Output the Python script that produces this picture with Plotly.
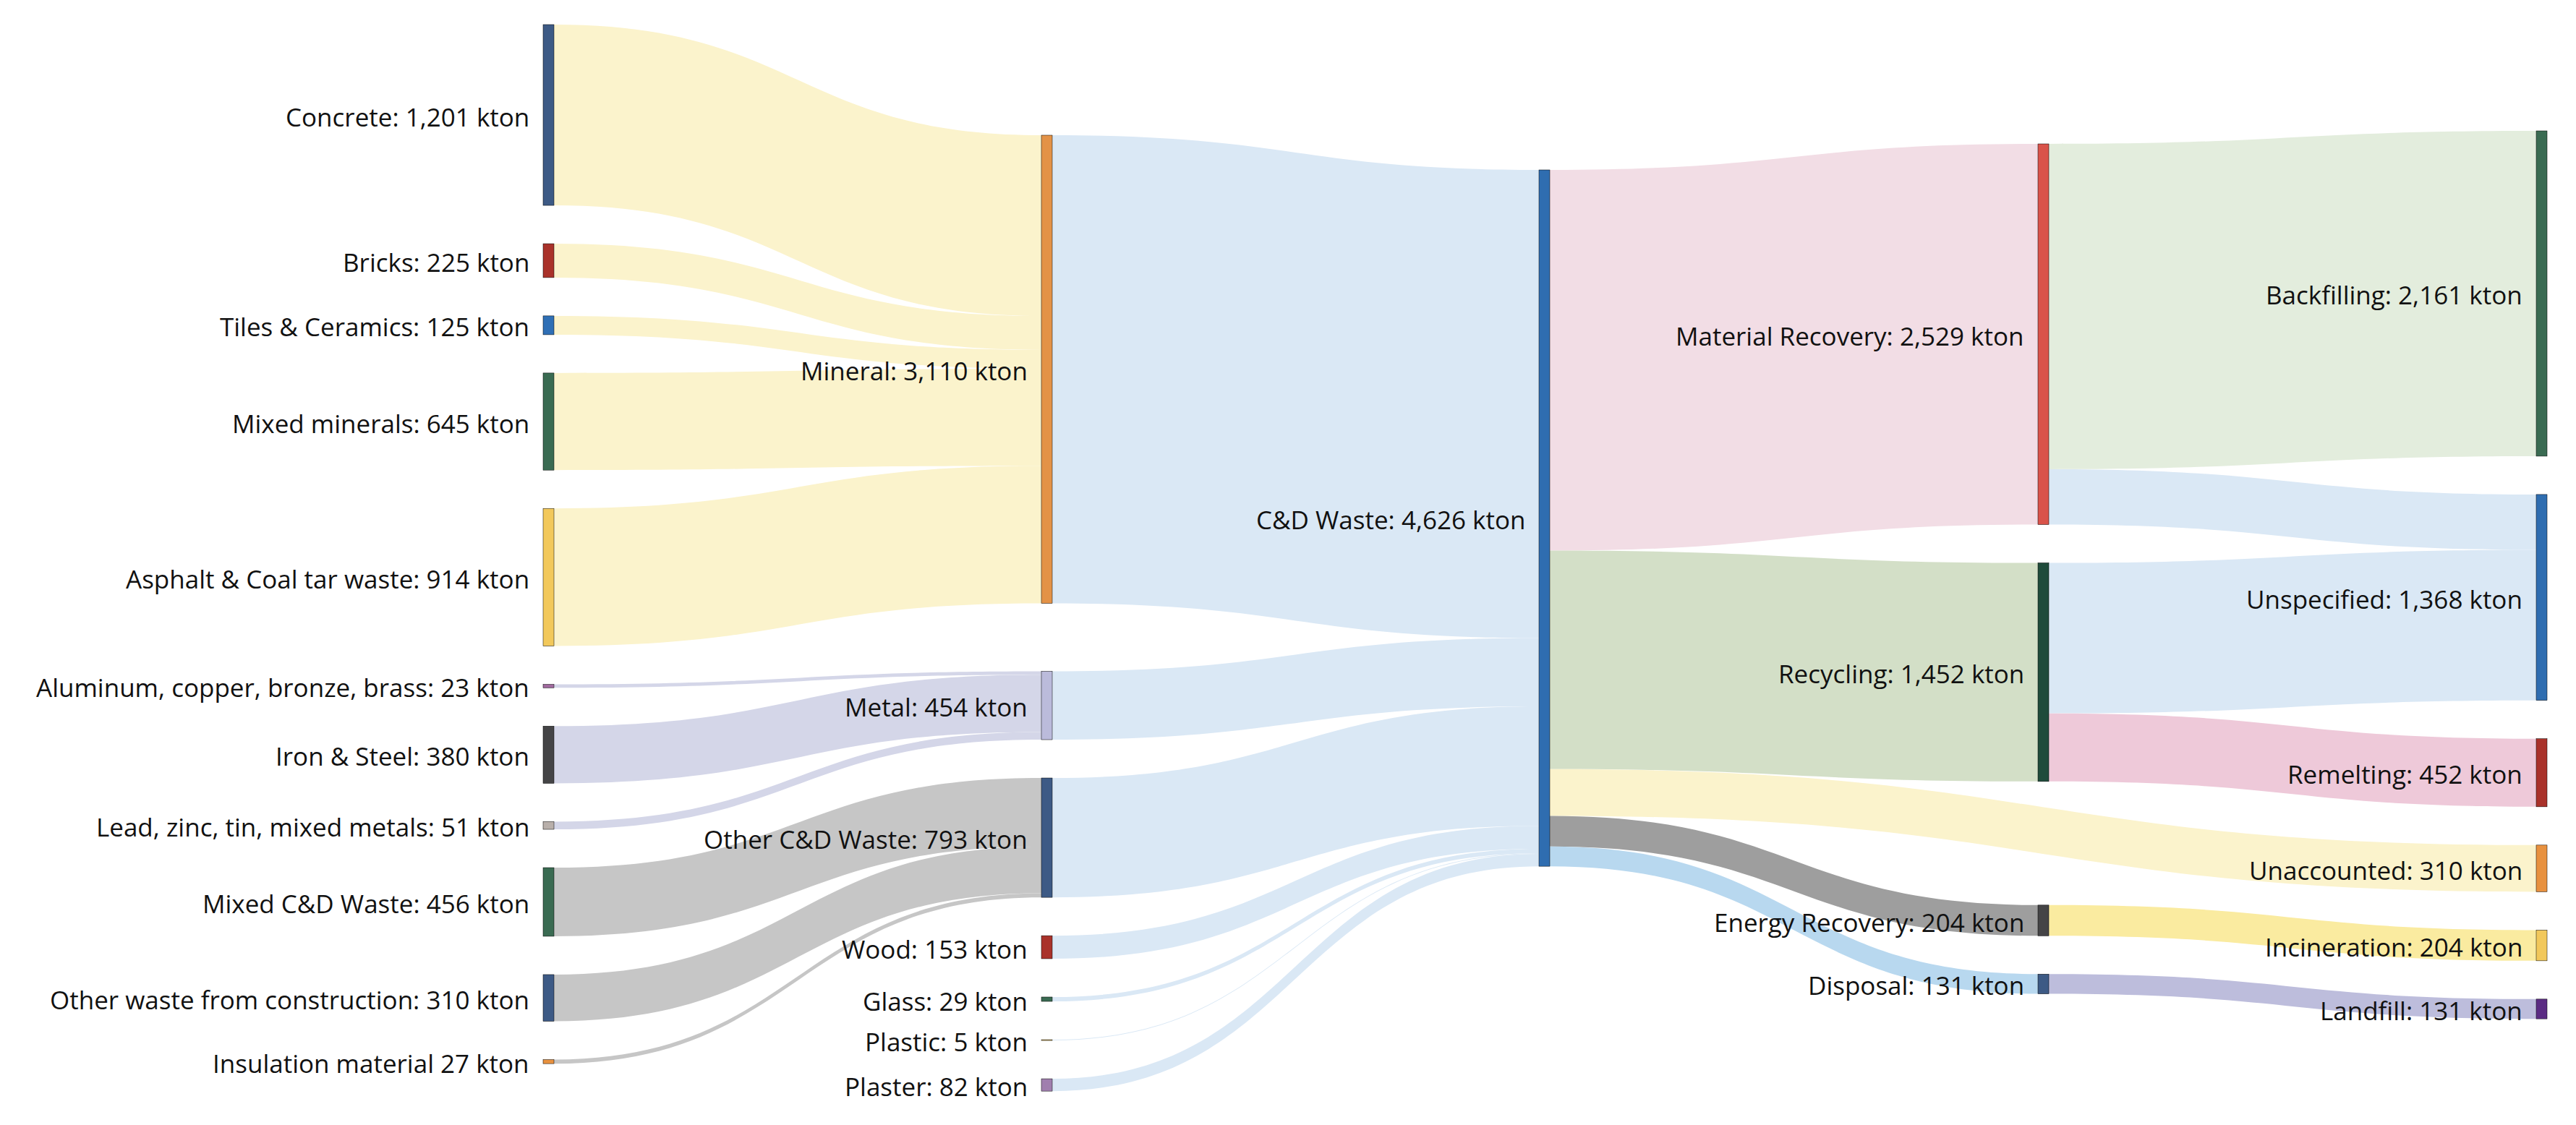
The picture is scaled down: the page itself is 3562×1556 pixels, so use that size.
import plotly.graph_objects as go

# ---------------- data ----------------
node_names = [
    "Concrete", "Bricks", "Tiles & Ceramics", "Mixed minerals", "Asphalt & Coal tar waste",
    "Aluminum, copper, bronze, brass", "Iron & Steel", "Lead, zinc, tin, mixed metals",
    "Mixed C&D Waste", "Other waste from construction", "Insulation material",
    "Mineral", "Metal", "Other C&D Waste", "Wood", "Glass", "Plastic", "Plaster",
    "C&D Waste",
    "Material Recovery", "Recycling", "Energy Recovery", "Disposal",
    "Backfilling", "Unspecified", "Remelting", "Unaccounted", "Incineration", "Landfill",
]
node_values = [
    1201, 225, 125, 645, 914, 23, 380, 51, 456, 310, 27,
    3110, 454, 793, 153, 29, 5, 82,
    4626,
    2529, 1452, 204, 131,
    2161, 1368, 452, 310, 204, 131,
]
node_labels = [
    "Concrete: 1,201 kton", "Bricks: 225 kton", "Tiles & Ceramics: 125 kton",
    "Mixed minerals: 645 kton", "Asphalt & Coal tar waste: 914 kton",
    "Aluminum, copper, bronze, brass: 23 kton", "Iron & Steel: 380 kton",
    "Lead, zinc, tin, mixed metals: 51 kton", "Mixed C&D Waste: 456 kton",
    "Other waste from construction: 310 kton", "Insulation material 27 kton",
    "Mineral: 3,110 kton", "Metal: 454 kton", "Other C&D Waste: 793 kton",
    "Wood: 153 kton", "Glass: 29 kton", "Plastic: 5 kton", "Plaster: 82 kton",
    "C&D Waste: 4,626 kton",
    "Material Recovery: 2,529 kton", "Recycling: 1,452 kton",
    "Energy Recovery: 204 kton", "Disposal: 131 kton",
    "Backfilling: 2,161 kton", "Unspecified: 1,368 kton", "Remelting: 452 kton",
    "Unaccounted: 310 kton", "Incineration: 204 kton", "Landfill: 131 kton",
]

link_sources = [
    "Concrete", "Bricks", "Tiles & Ceramics", "Mixed minerals", "Asphalt & Coal tar waste",
    "Aluminum, copper, bronze, brass", "Iron & Steel", "Lead, zinc, tin, mixed metals",
    "Mixed C&D Waste", "Other waste from construction", "Insulation material",
    "Mineral", "Metal", "Other C&D Waste", "Wood", "Glass", "Plastic", "Plaster",
    "C&D Waste", "C&D Waste", "C&D Waste", "C&D Waste", "C&D Waste",
    "Material Recovery", "Material Recovery", "Recycling", "Recycling",
    "Energy Recovery", "Disposal",
]
link_targets = [
    "Mineral", "Mineral", "Mineral", "Mineral", "Mineral",
    "Metal", "Metal", "Metal",
    "Other C&D Waste", "Other C&D Waste", "Other C&D Waste",
    "C&D Waste", "C&D Waste", "C&D Waste", "C&D Waste", "C&D Waste", "C&D Waste", "C&D Waste",
    "Material Recovery", "Recycling", "Unaccounted", "Energy Recovery", "Disposal",
    "Backfilling", "Unspecified", "Unspecified", "Remelting",
    "Incineration", "Landfill",
]
link_values = [
    1201, 225, 125, 645, 914,
    23, 380, 51,
    456, 310, 27,
    3110, 454, 793, 153, 29, 5, 82,
    2529, 1452, 310, 204, 131,
    2161, 368, 1000, 452,
    204, 131,
]

# ---------------- styles ----------------
node_colors = [
    "#3D5A85", "#A9322A", "#2F6FB5", "#3A6B52", "#F2C85B",
    "#A0699E", "#444446", "#B8AFAA", "#3A6B52", "#3D5A85", "#E8913F",
    "#E39247", "#BBBBDB", "#3D5A85", "#A9322A", "#3A6B52", "#F2C85B", "#A07FAE",
    "#2F6DB0",
    "#D9534A", "#1F4B3B", "#444446", "#3D5A85",
    "#3A6B52", "#2F6DB0", "#A9322A", "#E8913F", "#F2C85B", "#5B2C83",
]
node_line_colors = list(node_colors)
node_line_colors[node_names.index("Metal")] = "#9C9CC8"

link_color_by_target = {
    "Mineral": "#FBF3CC", "Metal": "#D4D6E8", "Other C&D Waste": "#C6C6C6",
    "C&D Waste": "#DAE8F5", "Material Recovery": "#F2DDE5", "Recycling": "#D3DFC7",
    "Unaccounted": "#FBF3CC", "Energy Recovery": "#9E9E9E", "Disposal": "#B8D8EF",
    "Backfilling": "#E3EDDD", "Unspecified": "#DAE8F5", "Remelting": "#EEC9D9",
    "Incineration": "#FAEBA0", "Landfill": "#BDBDDC",
}

# ---------------- layout geometry ----------------
W, H = 3562, 1556
node_column = [0] * 11 + [1] * 7 + [2] + [3] * 4 + [4] * 6
COL_X = [758, 1447, 2135, 2825, 3514]      # column centers (px)
COL_TOP = [34, 187, 235, 199, 181]         # top of first node per column (px)
GAP = 53                                   # regular gap between nodes (px)
EXTRA_GAP = {"Metal": 41, "Energy Recovery": 118}
KY = 0.2082                                # px per kton
THICK = 15
LABEL_PAD = 25
LABEL_DY = 6                               # raise labels slightly (px)
Y_FIX = 8                                  # plotly renders fixed nodes slightly lower

idx = {n: i for i, n in enumerate(node_names)}

# stacked node centers
node_xc, node_yc = [0.0] * len(node_names), [0.0] * len(node_names)
cursor = {c: None for c in range(5)}
for i, name in enumerate(node_names):
    c = node_column[i]
    h = node_values[i] * KY
    if cursor[c] is None:
        top = COL_TOP[c]
    else:
        top = cursor[c] + GAP + EXTRA_GAP.get(name, 0)
    node_xc[i] = COL_X[c]
    node_yc[i] = top + h / 2
    cursor[c] = top + h

# d3-sankey depth-0 column (all nodes without incoming links) constrains the scale
has_in = set(link_targets)
depth0 = [n for n in node_names if n not in has_in]
total0 = sum(node_values[idx[n]] for n in depth0)
pad = (H - KY * total0) / (len(depth0) - 1)

fig = go.Figure(go.Sankey(
    arrangement="fixed",
    domain=dict(x=[0, 1], y=[0, 1]),
    node=dict(
        label=[""] * len(node_names),
        customdata=node_labels,
        hovertemplate="%{customdata}<extra></extra>",
        x=[(x - THICK / 2) / W for x in node_xc],
        y=[(y - Y_FIX) / H for y in node_yc],
        color=node_colors,
        line=dict(color=node_line_colors, width=0.5),
        thickness=THICK,
        pad=pad,
    ),
    link=dict(
        source=[idx[s] for s in link_sources],
        target=[idx[t] for t in link_targets],
        value=link_values,
        color=[link_color_by_target[t] for t in link_targets],
        hovertemplate="%{source.customdata} → %{target.customdata}<br>%{value} kton<extra></extra>",
    ),
))

annotations = []
for i, lab in enumerate(node_labels):
    annotations.append(dict(
        x=(node_xc[i] - THICK / 2 - LABEL_PAD) / W,
        y=1 - (node_yc[i] - LABEL_DY) / H,
        xref="paper", yref="paper",
        xanchor="right", yanchor="middle",
        text=lab, showarrow=False,
        font=dict(family="Open Sans", size=35, color="#111111"),
    ))

fig.update_layout(
    width=W, height=H,
    margin=dict(l=0, r=0, t=0, b=0),
    paper_bgcolor="white", plot_bgcolor="white",
    font=dict(family="Open Sans", size=35, color="#111111"),
    annotations=annotations,
)

fig.write_html("out.html")
